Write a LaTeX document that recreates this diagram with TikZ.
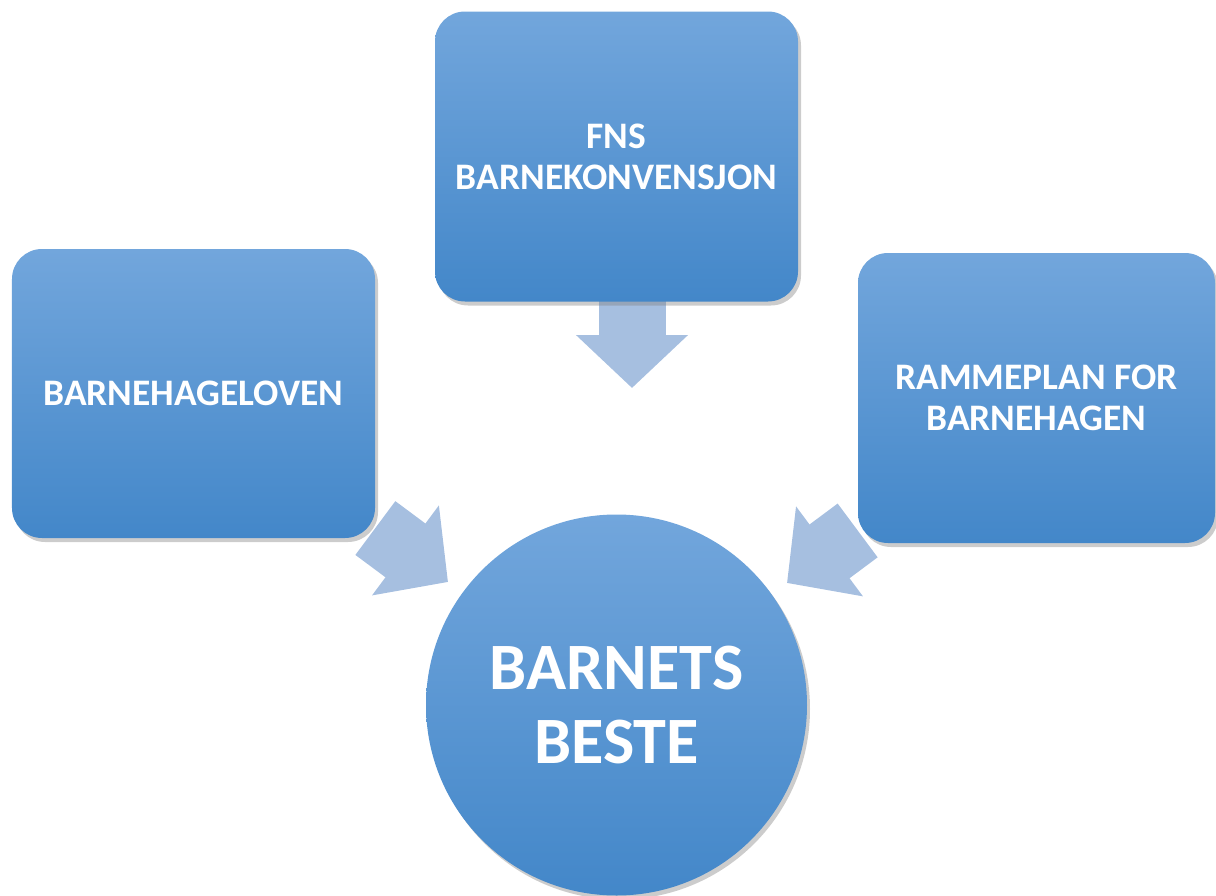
\documentclass[tikz,border=0pt]{standalone}
\usepackage{fontspec}
\setmainfont{Carlito}
\usepackage{tikz}
\usetikzlibrary{arrows.meta,shadows,backgrounds,positioning}

\definecolor{boxtop}{HTML}{72A6DC}
\definecolor{boxbottom}{HTML}{4387C9}
\definecolor{flowblue}{HTML}{A6BFE0}

\begin{document}
\begin{tikzpicture}
    [
      source/.style={rectangle,rounded corners=0.6cm,top color=boxtop,bottom color=boxbottom,
        draw=none,text=white,align=center,font=\bfseries\fontsize{21.3}{23.5}\selectfont,
        drop shadow={opacity=0.4,shadow xshift=0.06cm,shadow yshift=-0.08cm}},
      goal/.style={circle,minimum size=7.62cm,inner sep=0pt,top color=boxtop,bottom color=boxbottom,
        draw=none,text=white,align=center,font=\bfseries\fontsize{37.7}{42.5}\selectfont,
        drop shadow={opacity=0.4,shadow xshift=0.06cm,shadow yshift=-0.08cm}},
      flow/.style={draw=flowblue,line width=1.34cm,-{Triangle[width=2.18cm,length=1.06cm,fill=flowblue]}},
    ]

    \useasboundingbox (0,0) rectangle (24.32,-17.92);

    \node (fns) [source,minimum width=7.26cm,minimum height=5.8cm] at (12.33,-3.13) {FNS\\BARNEKONVENSJON};
    \node (lov) [source,minimum width=7.26cm,minimum height=5.78cm] at (3.87,-7.87) {BARNEHAGELOVEN};
    \node (plan) [source,minimum width=7.14cm,minimum height=5.8cm] at (20.73,-7.96) {RAMMEPLAN FOR\\BARNEHAGEN};
    \node (beste) [goal] at (12.33,-14.10) {BARNETS\\BESTE};

    \coordinate (fns-tip) at (12.64,-7.76);
    \coordinate (lov-tip) at (8.96,-11.64);
    \coordinate (plan-tip) at (15.74,-11.66);

    \begin{scope}[on background layer]
      \draw [flow] (fns-tip |- fns) -- (fns-tip);
      \draw [flow] (lov) -- (lov-tip);
      \draw [flow] (plan) -- (plan-tip);
    \end{scope}

  \end{tikzpicture}
\end{document}
